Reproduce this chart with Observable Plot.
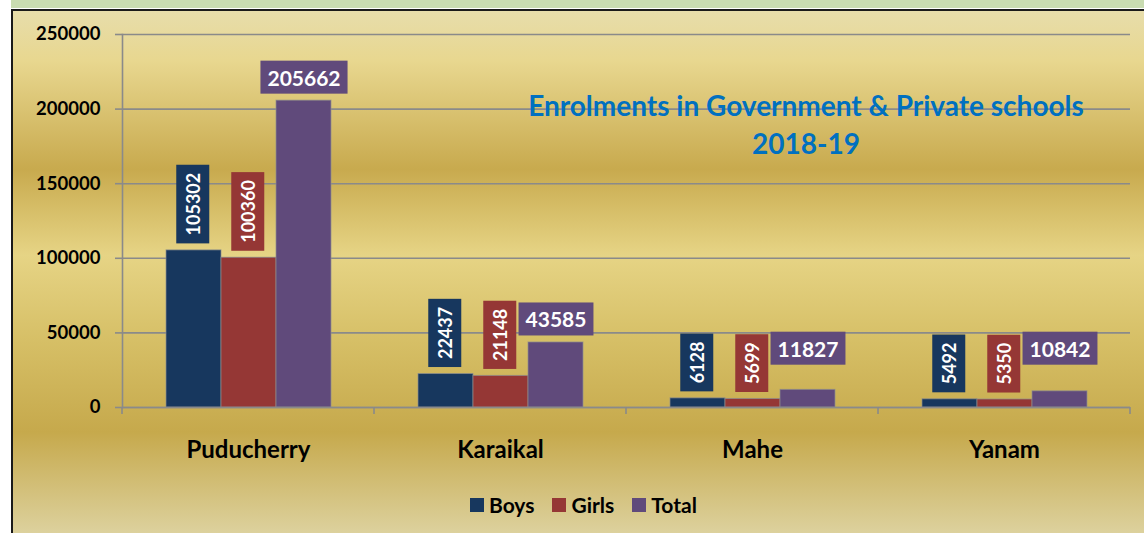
<!DOCTYPE html>
<html>
<head>
<meta charset="utf-8">
<script src="https://cdn.jsdelivr.net/npm/d3@7"></script>
<script src="https://cdn.jsdelivr.net/npm/@observablehq/plot@0.6"></script>
<style>
  body { margin: 0; background: #fff; }
  #wrap { position: relative; width: 1144px; height: 533px; overflow: hidden; font-family: Lato, "Open Sans", sans-serif; }
  #strip { position: absolute; left: 11px; top: 0; width: 1133px; height: 8px; background: #c9dcb1; }
  #panel { position: absolute; left: 11px; top: 9px; width: 1133px; height: 524px; box-sizing: border-box;
    border-top: 2px solid #1a1a1a; border-left: 2px solid #1a1a1a;
    background: linear-gradient(to bottom, #e7ddab 0px, #e8d78f 50px, #c8aa4e 158px, #e6d485 244px, #d6bf66 330px, #c6a94c 421px, #ddd29f 524px); }
  #chart { position: absolute; left: 0; top: 0; }
  #title { position: absolute; left: 456px; top: 86px; width: 700px; text-align: center; color: #0070c0;
    font-weight: bold; font-size: 28px; line-height: 38px; }
  #legend { position: absolute; left: 470px; top: 493px; height: 24px; display: flex; align-items: center;
    font-weight: bold; font-size: 21px; line-height: 24px; color: #000; }
  #legend .item { display: flex; align-items: center; margin-right: 18px; }
  #legend .sw { width: 14px; height: 14px; margin-right: 5px; }
</style>
</head>
<body>
<div id="wrap">
  <div id="strip"></div>
  <div id="panel"></div>
  <div id="chart"></div>
  <div id="title">Enrolments in Government &amp; Private schools<br>2018-19</div>
  <div id="legend"></div>
</div>
<script>
// ---- data ----
const regions = ["Puducherry", "Karaikal", "Mahe", "Yanam"];
const series = ["Boys", "Girls", "Total"];
const boys = [105302, 22437, 6128, 5492];
const girls = [100360, 21148, 5699, 5350];
const total = [205662, 43585, 11827, 10842];
const yTicks = [0, 50000, 100000, 150000, 200000, 250000];
const colors = ["#17375e", "#953735", "#604a7b"];

const valuesBySeries = {Boys: boys, Girls: girls, Total: total};
const rows = [];
regions.forEach((r, i) => series.forEach(s => rows.push({region: r, series: s, value: valuesBySeries[s][i]})));
const rowsOf = s => rows.filter(d => d.series === s);

const gridColor = "#8a8a8a";

const chart = Plot.plot({
  width: 1144,
  height: 533,
  marginLeft: 121,
  marginRight: 13,
  marginTop: 34,
  marginBottom: 126,
  style: {background: "transparent", fontFamily: "Lato, 'Open Sans', sans-serif", overflow: "visible"},
  fx: {domain: regions, padding: 0, label: null},
  x: {domain: series, axis: null, paddingInner: 0, paddingOuter: 0.754},
  y: {domain: [0, 250000], label: null},
  color: {domain: series, range: colors},
  marks: [
    Plot.gridY(yTicks, {stroke: gridColor, strokeOpacity: 1, strokeWidth: 1.6}),
    Plot.axisY(yTicks, {tickSize: 7, tickPadding: 15, fontSize: 18.5, fontWeight: "bold",
      stroke: gridColor, strokeWidth: 1.6, fill: "black", label: null, tickFormat: d => String(d)}),
    Plot.frame({anchor: "left", facetAnchor: "left", stroke: gridColor, strokeWidth: 1.6}),
    Plot.axisFx({anchor: "bottom", tickSize: 0, tickPadding: 33, fontSize: 24, fontWeight: "bold",
      fill: "black", label: null}),
    Plot.barY(rows, {fx: "region", x: "series", y: "value", fill: "series",
      stroke: "#8f8f8f", strokeOpacity: 0.7, strokeWidth: 1}),
    Plot.ruleY([0], {stroke: gridColor, strokeWidth: 1.6}),
    Plot.text(rowsOf("Boys"), {fx: "region", x: "series", y: "value", text: d => String(d.value),
      rotate: -90, textAnchor: "start", lineAnchor: "middle", dy: -15,
      fill: "white", fontSize: 18, fontWeight: "bold", ariaDescription: "label-Boys"}),
    Plot.text(rowsOf("Girls"), {fx: "region", x: "series", y: "value", text: d => String(d.value),
      rotate: -90, textAnchor: "start", lineAnchor: "middle", dy: -15,
      fill: "white", fontSize: 18, fontWeight: "bold", ariaDescription: "label-Girls"}),
    Plot.text(rowsOf("Total"), {fx: "region", x: "series", y: d => Math.max(d.value, 24000),
      text: d => String(d.value), lineAnchor: "bottom", dy: -15,
      fill: "white", fontSize: 21, fontWeight: "bold", ariaDescription: "label-Total"})
  ]
});

document.getElementById("chart").append(chart);

// label boxes behind the value labels
const svgNS = "http://www.w3.org/2000/svg";
series.forEach((s, i) => {
  const rotated = s !== "Total";
  chart.querySelectorAll(`g[aria-description="label-${s}"] text`).forEach(t => {
    const b = t.getBBox();
    const padX = rotated ? 8 : 7;
    const padY = rotated ? 5.5 : 4;
    const r = document.createElementNS(svgNS, "rect");
    r.setAttribute("x", b.x - padX);
    r.setAttribute("y", b.y - padY);
    r.setAttribute("width", b.width + 2 * padX);
    r.setAttribute("height", b.height + 2 * padY);
    r.setAttribute("fill", colors[i]);
    r.setAttribute("stroke", "none");
    const tr = t.getAttribute("transform");
    if (tr) r.setAttribute("transform", tr);
    t.parentNode.insertBefore(r, t);
  });
});

// tick marks at category boundaries below the baseline
const fxS = chart.scale("fx");
const yS = chart.scale("y");
const y0 = yS.apply(0);
const bounds = regions.map(r => fxS.apply(r)).concat([fxS.apply(regions[regions.length - 1]) + fxS.bandwidth]);
const g = document.createElementNS(svgNS, "g");
bounds.forEach(x => {
  const l = document.createElementNS(svgNS, "line");
  l.setAttribute("x1", x); l.setAttribute("x2", x);
  l.setAttribute("y1", y0); l.setAttribute("y2", y0 + 7);
  l.setAttribute("stroke", gridColor); l.setAttribute("stroke-width", 1.6);
  g.append(l);
});
chart.append(g);

// legend
const legend = document.getElementById("legend");
series.forEach((s, i) => {
  const item = document.createElement("div");
  item.className = "item";
  const sw = document.createElement("div");
  sw.className = "sw";
  sw.style.background = colors[i];
  const label = document.createElement("span");
  label.textContent = s;
  item.append(sw, label);
  legend.append(item);
});
</script>
</body>
</html>
